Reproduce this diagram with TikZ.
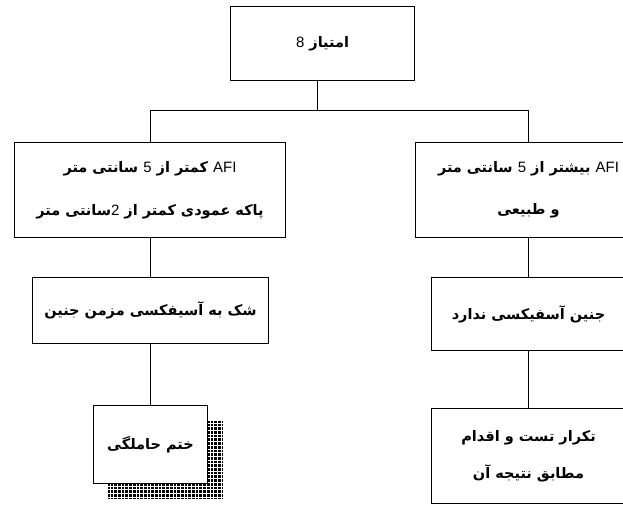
\documentclass[tikz,border=0pt]{standalone}
\usepackage{fontspec}
\TeXXeTstate=1
\newfontfamily\fa[Script=Arabic]{DejaVu Sans}
\newfontfamily\la{Liberation Sans}
\newcommand\lt[1]{{\la\mdseries\fontsize{15}{16}\selectfont #1}}
\begin{document}
\begin{tikzpicture}[x=1pt,y=-1pt,
  box/.style={draw=black, line width=1pt, fill=white, inner sep=0pt, anchor=north west, align=center,
    font=\fa\bfseries\fontsize{14.5}{16}\selectfont},
  conn/.style={draw=black, line width=1pt}]
\useasboundingbox (0,0) rectangle (623,504);
\clip (0,0) rectangle (623,504);
% shadow of the last left box
\begin{scope}
  \clip (108,421) rectangle (223,499);
  \fill[black] (108,421) rectangle (223,499);
  \foreach \x in {110,113.7,...,224} \draw[white, line width=0.8pt] (\x,421) -- (\x,499);
  \foreach \y in {423,426.7,...,500} \draw[white, line width=0.8pt] (108,\y) -- (223,\y);
\end{scope}
\node[box, minimum width=184pt, minimum height=74pt] (top) at (230,6) {\beginR امتیاز \lt{8}\endR};
\node[box, minimum width=271pt, minimum height=95pt] (L1) at (14,142)
  {\beginR\lt{AFI} کمتر از \lt{5} سانتی متر\endR\\[27pt]\beginR پاکه عمودی کمتر از \lt{2}سانتی متر\endR};
\node[box, minimum width=226pt, minimum height=95pt] (R1) at (415,142)
  {\beginR\lt{AFI} بیشتر از \lt{5} سانتی متر\endR\\[26pt]\beginR و طبیعی\endR};
\node[box, minimum width=236pt, minimum height=66pt] (L2) at (32,277) {\beginR شک به آسیفکسی مزمن جنین\endR};
\node[box, minimum width=194pt, minimum height=73pt] (R2) at (431,277) {\beginR جنین آسفیکسی ندارد\endR};
\node[box, minimum width=114pt, minimum height=78pt] (L3) at (93,405) {\beginR ختم حاملگی\endR};
\node[box, minimum width=194pt, minimum height=95pt] (R3) at (431,408)
  {\beginR تکرار تست و اقدام\endR\\[19pt]\beginR مطابق نتیجه آن\endR};
\coordinate (j) at (317,110);
\coordinate (jl) at (150,110);
\coordinate (jr) at (528,110);
\draw[conn] (top.south -| j) -- (j);
\draw[conn] (jl) -- (jr);
\draw[conn] (jl) -- (jl |- L1.north);
\draw[conn] (jr) -- (jr |- R1.north);
\draw[conn] (L1.south -| jl) -- (L2.north -| jl);
\draw[conn] (L2.south -| jl) -- (L3.north -| jl);
\draw[conn] (R1.south -| jr) -- (R2.north -| jr);
\draw[conn] (R2.south -| jr) -- (R3.north -| jr);
\end{tikzpicture}
\end{document}
